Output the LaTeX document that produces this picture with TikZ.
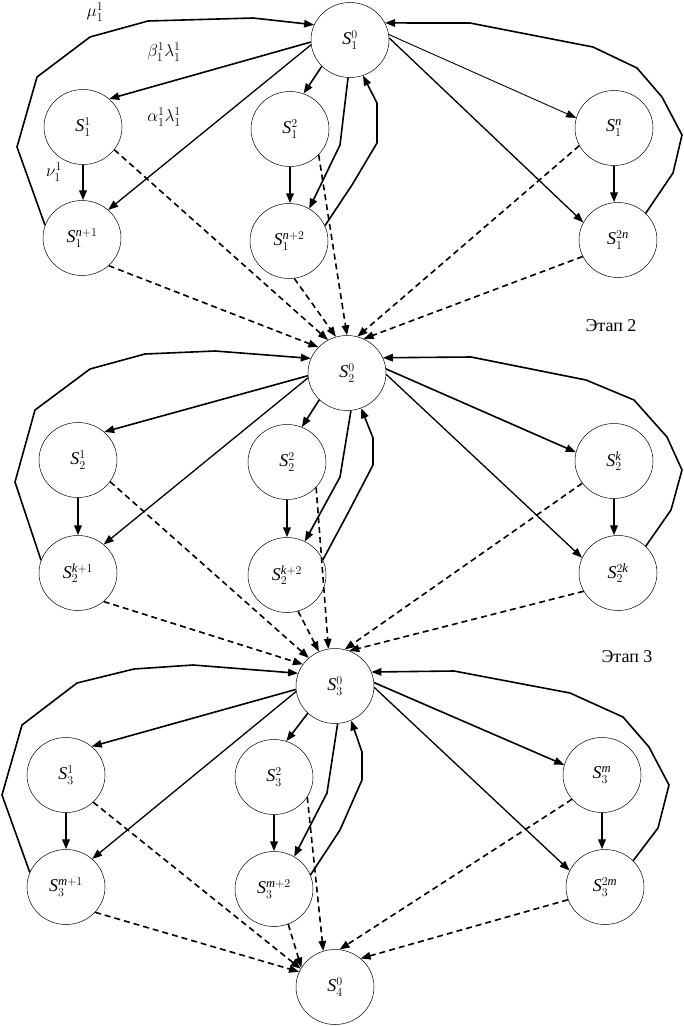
\documentclass[tikz,border=0pt]{standalone}
\usepackage{fontspec}
\setmainfont{Liberation Serif}
\usetikzlibrary{shapes.geometric,arrows.meta}
\begin{document}
\begin{tikzpicture}[x=1pt,y=-1pt,
  st/.style={ellipse,draw,line width=0.5pt,minimum width=78pt,minimum height=75pt,inner sep=0pt,font=\fontsize{18}{21}\selectfont},
  lab/.style={inner sep=0pt,font=\fontsize{18}{21}\selectfont},
  arr/.style={-{Triangle[length=10pt,width=7.5pt]},line join=round},
  loopl/.style={arr,line width=1.6pt},
  vert/.style={arr,line width=2.2pt},
  thk/.style={arr,line width=1.6pt},
  med/.style={arr,line width=1.3pt},
  thn/.style={arr,line width=0.9pt},
  dsh/.style={arr,line width=1.6pt,dash pattern=on 6pt off 4pt}]
\useasboundingbox (0,0) rectangle (684,1026);
% ---------- stage 1 nodes
\node[st] (a0) at (350,40) {$\mathit{S}_1^0$};
\node[st] (a1) at (83,127) {$\mathit{S}_1^1$};
\node[st] (a2) at (290,129) {$\mathit{S}_1^2$};
\node[st] (an) at (614,128) {$\mathit{S}_1^{\mathit{n}}$};
\node[st] (an1) at (82,238) {$\mathit{S}_1^{\mathit{n}+1}$};
\node[st] (an2) at (289,241) {$\mathit{S}_1^{\mathit{n}+2}$};
\node[st] (a2n) at (618,240) {$\mathit{S}_1^{2\mathit{n}}$};
% ---------- stage 2 nodes
\node[st] (b0) at (347,373) {$\mathit{S}_2^0$};
\node[st] (b1) at (78,460) {$\mathit{S}_2^1$};
\node[st] (b2) at (287,462) {$\mathit{S}_2^2$};
\node[st] (bk) at (614,461) {$\mathit{S}_2^{\mathit{k}}$};
\node[st] (bk1) at (78,573) {$\mathit{S}_2^{\mathit{k}+1}$};
\node[st] (bk2) at (287,575) {$\mathit{S}_2^{\mathit{k}+2}$};
\node[st] (b2k) at (618,573) {$\mathit{S}_2^{2\mathit{k}}$};
% ---------- stage 3 nodes
\node[st] (c0) at (335,686) {$\mathit{S}_3^0$};
\node[st] (c1) at (66,775) {$\mathit{S}_3^1$};
\node[st] (c2) at (274,777) {$\mathit{S}_3^2$};
\node[st] (cm) at (602,775) {$\mathit{S}_3^{\mathit{m}}$};
\node[st] (cm1) at (66,887) {$\mathit{S}_3^{\mathit{m}+1}$};
\node[st] (cm2) at (274,889) {$\mathit{S}_3^{\mathit{m}+2}$};
\node[st] (c2m) at (605,887) {$\mathit{S}_3^{2\mathit{m}}$};
\node[st] (d0) at (335,987) {$\mathit{S}_4^0$};
% ---------- labels
\node[lab] (mu) at (95,12) {$\mu_1^1$};
\node[lab] (bl) at (164,52) {$\beta_1^1\lambda_1^1$};
\node[lab] (al) at (164,117) {$\alpha_1^1\lambda_1^1$};
\node[lab] (nu) at (54,172) {$\nu_1^1$};
\node[lab] (e2) at (611,326) {Этап 2};
\node[lab] (e3) at (627,657) {Этап 3};
% ---------- stage 1 edges
\draw[loopl] (an1.161) -- (17,147) -- (37,77) -- (90,37) -- (148,21) -- (253,18) -- (a0.157);
\draw[loopl] (a2n.44) -- (673,173) -- (682,135) -- (662,97) -- (637,68) -- (593,47) -- (470,23) -- (a0.26);
\draw[thk] (a0.183) -- (a1.47);
\draw[med] (a0.187) -- (an1.47);
\draw[thk] (a0.223) -- (a2.69);
\draw[thk] (a0.267) -- (340,145) -- (an2.58);
\draw[thk] (an2.23) -- (352,185) -- (377,143) -- (377,103) -- (a0.290);
\draw[thn] (a0.8) -- (an.165);
\draw[med] (a0.3) -- (a2n.153);
\draw[vert] (a1.south) -- (a1.south |- an1.north);
\draw[vert] (a2.south) -- (a2.south |- an2.north);
\draw[vert] (an.south) -- (an.south |- a2n.north);
\draw[dsh] (a1.324) -- (b0.120);
\draw[dsh] (an1.314) -- (b0.138);
\draw[dsh] (a2.318) -- (b0.90);
\draw[dsh] (an2.278) -- (b0.107);
\draw[dsh] (an.207) -- (b0.74);
\draw[dsh] (a2n.205) -- (b0.64);
% ---------- stage 2 edges
\draw[loopl] (bk1.161) -- (15,482) -- (35,410) -- (90,369) -- (145,354) -- (215,351) -- (b0.158);
\draw[loopl] (b2k.44) -- (671,510) -- (682,470) -- (667,437) -- (634,400) -- (586,380) -- (471,357) -- (b0.23);
\draw[thk] (b0.184) -- (b1.47);
\draw[med] (b0.187) -- (bk1.48);
\draw[thk] (b0.224) -- (b2.67);
\draw[thk] (b0.276) -- (340,477) -- (bk2.62);
\draw[thk] (bk2.23) -- (348,513) -- (373,465) -- (373,438) -- (b0.292);
\draw[thk] (b0.6) -- (bk.167);
\draw[med] (b0.358) -- (b2k.157);
\draw[vert] (b1.south) -- (b1.south |- bk1.north);
\draw[vert] (b2.south) -- (b2.south |- bk2.north);
\draw[vert] (bk.south) -- (bk.south |- b2k.north);
\draw[dsh] (b1.326) -- (c0.133);
\draw[dsh] (bk1.312) -- (c0.146);
\draw[dsh] (b2.319) -- (c0.100);
\draw[dsh] (bk2.287) -- (c0.115);
\draw[dsh] (bk.215) -- (c0.75);
\draw[dsh] (b2k.208) -- (c0.68);
% ---------- stage 3 edges
\draw[loopl] (cm1.158) -- (2,795) -- (22,725) -- (77,683) -- (134,669) -- (193,665) -- (c0.161);
\draw[loopl] (c2m.43) -- (658,828) -- (669,785) -- (649,747) -- (623,717) -- (570,693) -- (454,671) -- (c0.21);
\draw[thk] (c0.185) -- (c1.48);
\draw[med] (c0.188) -- (cm1.47);
\draw[thk] (c0.225) -- (c2.71);
\draw[thk] (c0.274) -- (327,793) -- (cm2.58);
\draw[thk] (cm2.21) -- (340,830) -- (362,780) -- (362,752) -- (c0.295);
\draw[thk] (c0.5) -- (cm.165);
\draw[med] (c0.358) -- (c2m.155);
\draw[vert] (c1.south) -- (c1.south |- cm1.north);
\draw[vert] (c2.south) -- (c2.south |- cm2.north);
\draw[vert] (cm.south) -- (cm.south |- c2m.north);
\draw[dsh] (c1.315) -- (d0.152);
\draw[dsh] (cm1.319) -- (d0.157);
\draw[dsh] (cm2.292) -- (d0.150);
\draw[dsh] (c2.329) -- (d0.108);
\draw[dsh] (cm.219) -- (d0.83);
\draw[dsh] (c2m.199) -- (d0.48);
\end{tikzpicture}
\end{document}
